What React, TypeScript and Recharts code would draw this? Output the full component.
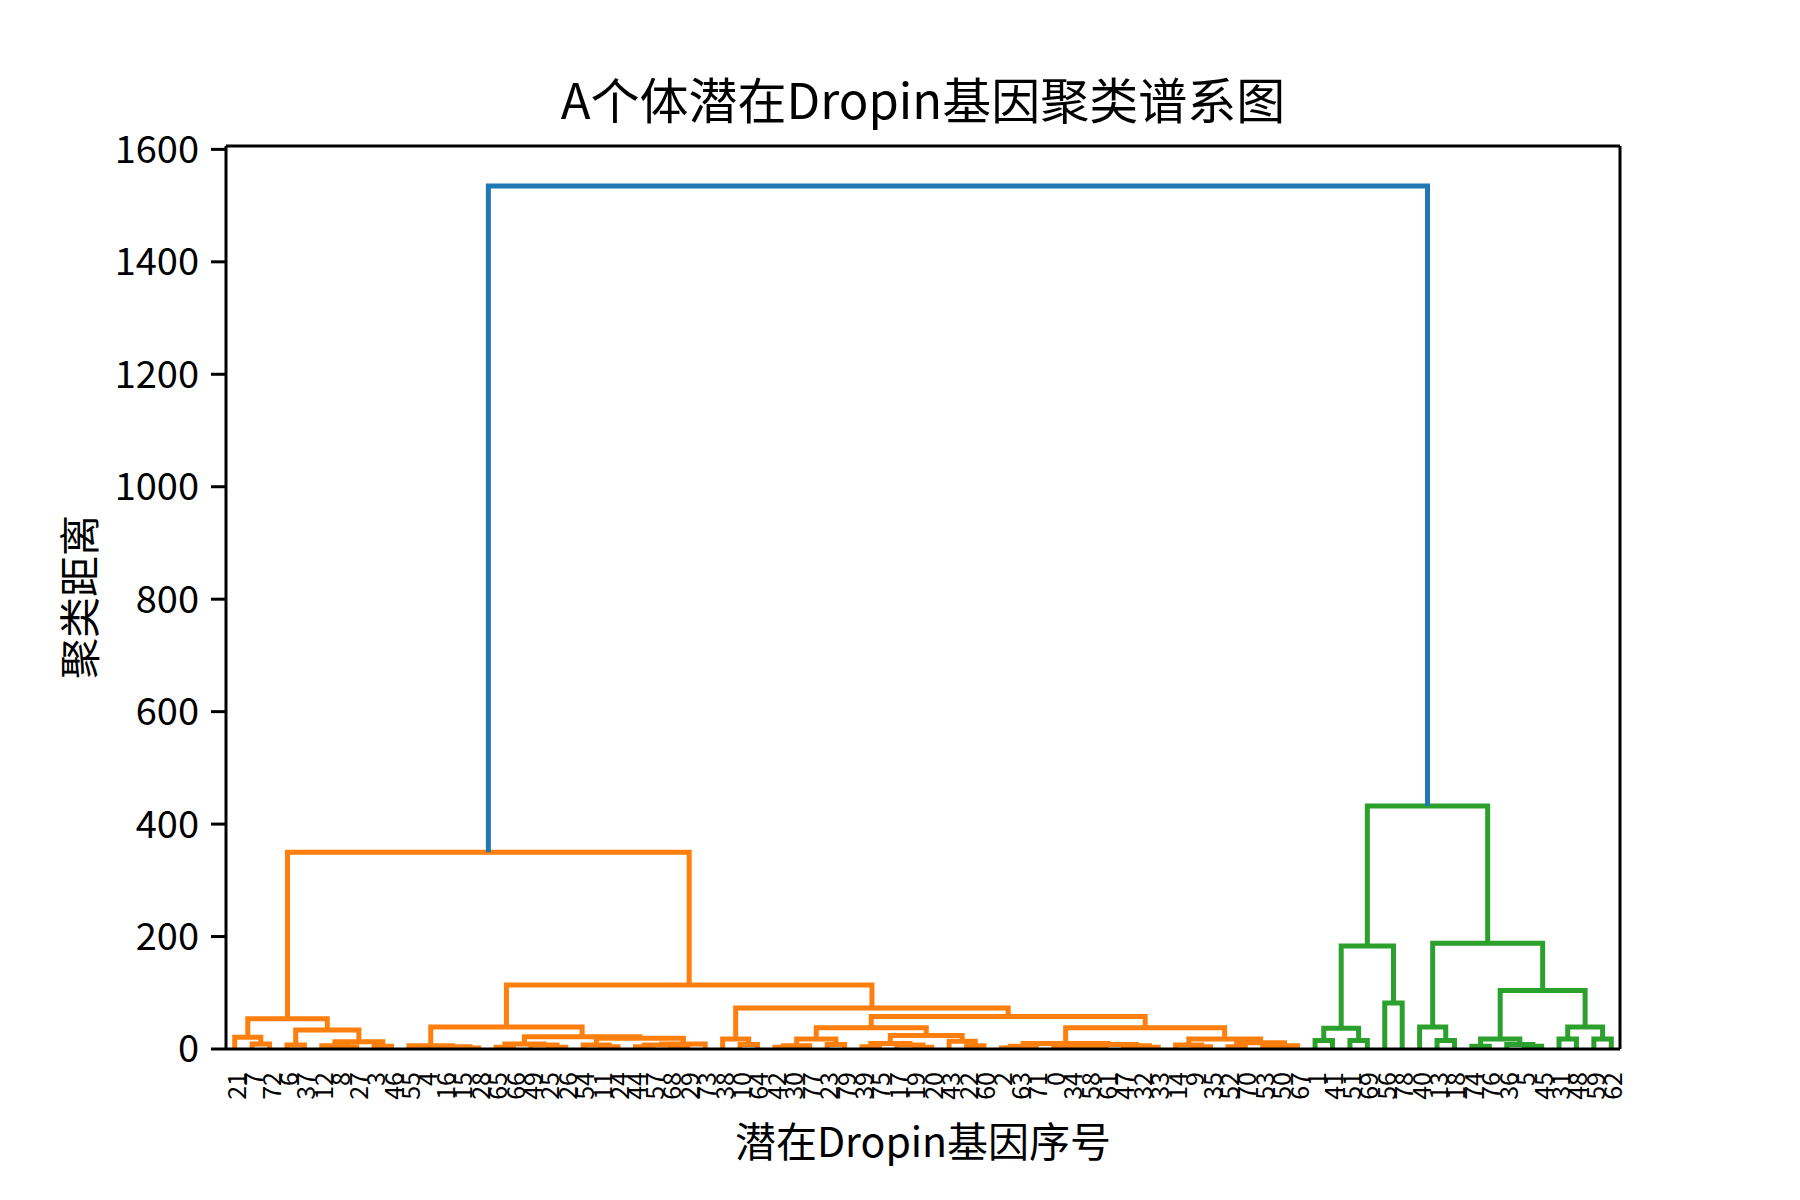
import React from 'react'
import { LineChart, Line, XAxis, YAxis, ReferenceLine } from 'recharts'

// a merge is [height, left, right]; plain numbers are sample ids
type Node = number | [number, Node, Node]

const leftGroup: Node = [54, [21, 21, [9, 7, 72]], [34, [7, 6, 37], [13, [6, 12, [4, 8, 27]], [5, 3, 46]]]]

const groupC: Node = [19, [7, 54, [4, 11, 24]], [9, [7, [4, 44, 57], [5, 68, 29]], 73]]
const groupB: Node = [22, [9, [3, 65, 66], [7, 49, [3, 25, 26]]], groupC]
const groupA: Node = [39, [6, 55, [4, [3, 4, 16], [2, 15, 28]]], groupB]

const groupG: Node = [24, [10, [4, 39, 75], [7, 17, [3, 19, 20]]], [14, 43, [6, 22, 60]]]
const groupF: Node = [38, [18, [6, [3, 42, 30], 77], [8, 23, 79]], groupG]
const groupHl: Node = [10, [5, [2, 2, 63], 71], [8, [5, [3, 0, 34], [3, 58, 61]], [6, 47, [3, 32, 33]]]]
const groupI: Node = [18, [7, 14, [4, 9, 35]], [11, [4, 52, 70], [6, [3, 53, 50], 67]]]
const groupH: Node = [38, groupHl, groupI]
const groupE: Node = [58, groupF, groupH]
const groupD: Node = [73, [18, 38, [8, 10, 64]], groupE]

const orangeRoot: Node = [350, leftGroup, [114, groupA, groupD]]

const groupJ: Node = [183, [37, [15, 1, 41], [15, 51, 69]], [82, 56, 78]]
const groupN: Node = [104, [18, [5, 74, 76], [8, 36, [5, 5, 45]]], [39, [18, 31, 48], [18, 59, 62]]]
const groupL: Node = [188, [39, 40, [15, 13, 18]], groupN]
const greenRoot: Node = [432, groupJ, groupL]

const topHeight = 1535
const yTicks = [0, 200, 400, 600, 800, 1000, 1200, 1400, 1600]

const BLUE = '#1f77b4'
const ORANGE = '#ff7f0e'
const GREEN = '#2ca02c'
const FONT = '"Noto Sans CJK SC", "Noto Sans", sans-serif'

type Pt = { x: number; y: number }
type Link = { color: string; points: Pt[] }

const links: Link[] = []
const leafOrder: number[] = []

const walk = (n: Node, color: string): Pt => {
  if (typeof n === 'number') {
    const x = leafOrder.length * 10 + 5
    leafOrder.push(n)
    return { x, y: 0 }
  }
  const [h, l, r] = n
  const a = walk(l, color)
  const b = walk(r, color)
  links.push({
    color,
    points: [
      { x: a.x, y: a.y },
      { x: a.x, y: h },
      { x: b.x, y: h },
      { x: b.x, y: b.y },
    ],
  })
  return { x: (a.x + b.x) / 2, y: h }
}

const o = walk(orangeRoot, ORANGE)
const g = walk(greenRoot, GREEN)
links.push({
  color: BLUE,
  points: [
    { x: o.x, y: o.y },
    { x: o.x, y: topHeight },
    { x: g.x, y: topHeight },
    { x: g.x, y: g.y },
  ],
})

const leafTicks = leafOrder.map((_, i) => i * 10 + 5)

const LeafTick = (props: any) => {
  const { x, y, payload } = props
  const label = leafOrder[Math.round((payload.value - 5) / 10)]
  return (
    <text
      x={x}
      y={y}
      transform={`rotate(-90, ${x}, ${y})`}
      textAnchor="end"
      dominantBaseline="central"
      fontSize={25}
      fontFamily={FONT}
      fill="#000"
    >
      {label}
    </text>
  )
}

export default function App() {
  return (
    <div style={{ position: 'absolute', left: 0, top: 0, width: 1800, height: 1200, background: '#fff' }}>
      <LineChart width={1800} height={1200} margin={{ top: 146, right: 180, bottom: 91, left: 106 }}>
        <XAxis
          type="number"
          dataKey="x"
          domain={[0, 800]}
          ticks={leafTicks}
          interval={0}
          tick={<LeafTick />}
          tickLine={false}
          tickSize={15}
          tickMargin={8}
          height={60}
          axisLine={{ stroke: '#000', strokeWidth: 3 }}
          allowDataOverflow
        />
        <YAxis
          type="number"
          domain={[0, 1606]}
          ticks={yTicks}
          interval={0}
          width={120}
          tickSize={15}
          tickMargin={12}
          tick={{ fontSize: 38, fill: '#000', fontFamily: FONT }}
          tickLine={{ stroke: '#000', strokeWidth: 3 }}
          axisLine={{ stroke: '#000', strokeWidth: 3 }}
          allowDataOverflow
        />
        <ReferenceLine y={1606} stroke="#000" strokeWidth={3} />
        <ReferenceLine x={800} stroke="#000" strokeWidth={3} />
        {links.map((lk, i) => (
          <Line
            key={i}
            data={lk.points}
            dataKey="y"
            stroke={lk.color}
            strokeWidth={5}
            dot={false}
            activeDot={false}
            type="linear"
            isAnimationActive={false}
          />
        ))}
      </LineChart>
      <svg width={1800} height={1200} style={{ position: 'absolute', left: 0, top: 0, pointerEvents: 'none' }}>
        <text x={923} y={97} textAnchor="middle" dominantBaseline="central" fontSize={49} fontFamily={FONT} fill="#000">
          A个体潜在Dropin基因聚类谱系图
        </text>
        <text x={923} y={1139} textAnchor="middle" dominantBaseline="central" fontSize={41} fontFamily={FONT} fill="#000">
          潜在Dropin基因序号
        </text>
        <text
          x={77}
          y={597}
          transform="rotate(-90, 77, 597)"
          textAnchor="middle"
          dominantBaseline="central"
          fontSize={41}
          fontFamily={FONT}
          fill="#000"
        >
          聚类距离
        </text>
      </svg>
    </div>
  )
}
